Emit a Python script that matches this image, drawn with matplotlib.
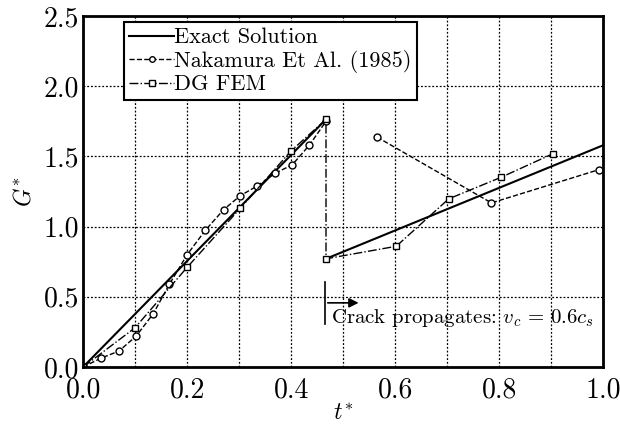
import matplotlib
matplotlib.use("Agg")
import matplotlib.pyplot as plt
from matplotlib.ticker import MultipleLocator

plt.rcParams["font.family"] = "serif"
plt.rcParams["font.serif"] = ["cmr10", "DejaVu Serif"]
plt.rcParams["mathtext.fontset"] = "cm"
plt.rcParams["axes.formatter.use_mathtext"] = True

# exact solution (two branches: before / after crack propagation)
exact_t1 = [0.0, 0.467]
exact_g1 = [0.0, 1.764]
exact_t2 = [0.467, 1.0]
exact_g2 = [0.771, 1.58]

# Nakamura et al. (1985)
nak_t1 = [0.0, 0.034, 0.069, 0.102, 0.135, 0.166, 0.2, 0.235, 0.27, 0.302,
          0.335, 0.369, 0.402, 0.435, 0.467]
nak_g1 = [0.0, 0.062, 0.114, 0.22, 0.38, 0.59, 0.80, 0.974, 1.12, 1.22,
          1.29, 1.38, 1.44, 1.58, 1.75]
nak_t2 = [0.565, 0.785, 0.991]
nak_g2 = [1.638, 1.169, 1.405]

# DG FEM
dg_t = [0.0, 0.1, 0.2, 0.302, 0.40, 0.467, 0.467, 0.602, 0.703, 0.804, 0.903]
dg_g = [0.0, 0.28, 0.71, 1.13, 1.54, 1.764, 0.771, 0.86, 1.198, 1.352, 1.519]

fig = plt.figure(figsize=(6.2, 4.28), dpi=100)
ax = fig.add_axes([0.134, 0.1425, 0.839, 0.82])

mk = dict(markersize=5, markerfacecolor="white", markeredgewidth=1.0)
ax.plot(exact_t1, exact_g1, "-", color="black", lw=1.5, label="Exact Solution")
ax.plot(exact_t2, exact_g2, "-", color="black", lw=1.5)
ax.plot(nak_t1, nak_g1, "--", marker="o", color="black", lw=1.0,
        label="Nakamura Et Al. (1985)", **mk)
ax.plot(nak_t2, nak_g2, "--", marker="o", color="black", lw=1.0, **mk)
ax.plot(dg_t, dg_g, "-.", marker="s", color="black", lw=1.0,
        label="DG FEM", **mk)

ax.set_xlim(0, 1.0)
ax.set_ylim(0, 2.5)
ax.xaxis.set_major_locator(MultipleLocator(0.2))
ax.xaxis.set_minor_locator(MultipleLocator(0.1))
ax.yaxis.set_major_locator(MultipleLocator(0.5))
ax.xaxis.set_major_formatter(plt.FuncFormatter(lambda v, _: f"{v:.1f}"))
ax.yaxis.set_major_formatter(plt.FuncFormatter(lambda v, _: f"{v:.1f}"))
ax.grid(True, which="both", axis="x", color="black", ls=(0, (1.5, 1.5)), lw=0.9)
ax.grid(True, which="major", axis="y", color="black", ls=(0, (1.5, 1.5)), lw=0.9)
ax.tick_params(which="both", direction="in", length=0, labelsize=20)
ax.tick_params(axis="x", pad=7)
ax.tick_params(axis="y", pad=3)
for s in ax.spines.values():
    s.set_linewidth(2.0)

ax.set_xlabel(r"$t^{*}$", fontsize=17, labelpad=0)
ax.set_ylabel(r"$G^{*}$", fontsize=17, labelpad=6)

# crack propagation marker
ax.plot([0.465, 0.465], [0.307, 0.607], color="black", lw=1.2)
ax.annotate("", xy=(0.535, 0.457), xytext=(0.465, 0.457),
            arrowprops=dict(arrowstyle="-|>", color="black", lw=1.2,
                            mutation_scale=14))
ax.text(0.477, 0.31, r"Crack propagates: $v_c\,=\,0.6c_s$", fontsize=15,
        ha="left", va="baseline")

leg = ax.legend(loc="upper left", bbox_to_anchor=(0.07, 0.995), fontsize=16,
                fancybox=False, framealpha=1, edgecolor="black",
                handlelength=2.0, handletextpad=0.0, borderpad=0.25,
                labelspacing=0.1, borderaxespad=0.2, markerscale=0.8)
leg.get_frame().set_linewidth(1.5)

fig.savefig("out.png", dpi=100)
